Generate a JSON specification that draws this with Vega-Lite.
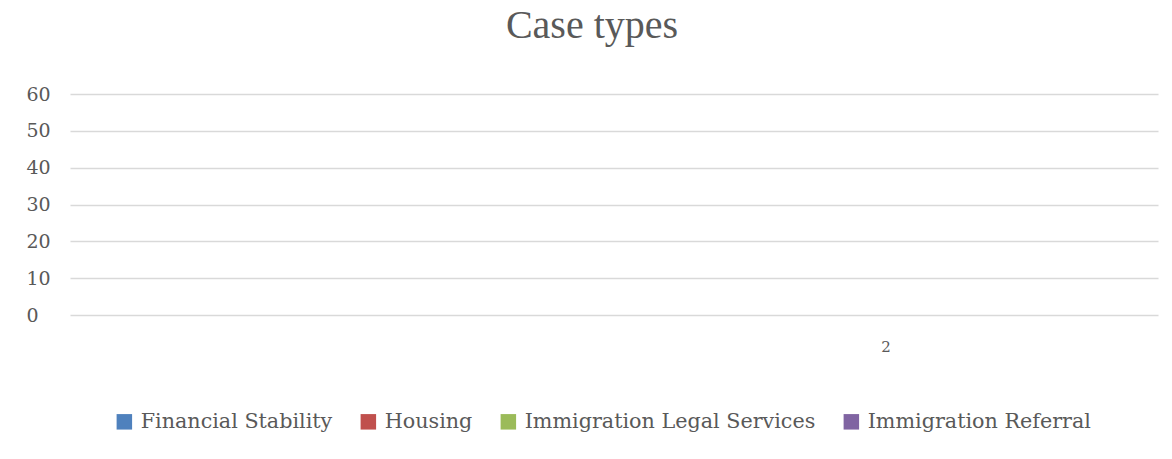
{
  "$schema": "https://vega.github.io/schema/vega-lite/v6.json",
  "autosize": "none",
  "width": 1088,
  "height": 221,
  "padding": {"left": 70, "top": 94, "right": 14, "bottom": 144},
  "background": "white",
  "title": {
    "text": "Case types",
    "font": "Liberation Serif",
    "fontSize": 40,
    "fontWeight": "normal",
    "color": "#595959",
    "anchor": "middle",
    "dx": -22,
    "offset": 39
  },
  "data": {
    "values": [
      {"category": "1", "series": "Financial Stability", "value": 0},
      {"category": "1", "series": "Housing", "value": 0},
      {"category": "1", "series": "Immigration Legal Services", "value": 0},
      {"category": "1", "series": "Immigration Referral", "value": 0},
      {"category": "2", "series": "Financial Stability", "value": 0},
      {"category": "2", "series": "Housing", "value": 0},
      {"category": "2", "series": "Immigration Legal Services", "value": 0},
      {"category": "2", "series": "Immigration Referral", "value": 0}
    ]
  },
  "mark": {"type": "bar"},
  "encoding": {
    "x": {
      "field": "category",
      "type": "nominal",
      "title": null,
      "scale": {"paddingInner": 0, "paddingOuter": 0},
      "axis": {
        "domain": false,
        "ticks": false,
        "labelAngle": 0,
        "labelExpr": "datum.label == '1' ? '' : datum.label",
        "labelFont": "DejaVu Serif",
        "labelFontSize": 15,
        "labelColor": "#595959",
        "labelPadding": 24
      }
    },
    "xOffset": {"field": "series", "type": "nominal"},
    "y": {
      "field": "value",
      "type": "quantitative",
      "title": null,
      "scale": {"domain": [0, 60]},
      "axis": {
        "values": [0, 10, 20, 30, 40, 50, 60],
        "domain": false,
        "ticks": false,
        "tickSize": 0,
        "labelAlign": "left",
        "labelPadding": 44,
        "labelFont": "DejaVu Serif",
        "labelFontSize": 19,
        "labelColor": "#595959",
        "gridColor": "#d9d9d9",
        "gridWidth": 1.5
      }
    },
    "color": {
      "field": "series",
      "type": "nominal",
      "title": null,
      "scale": {
        "domain": ["Financial Stability", "Housing", "Immigration Legal Services", "Immigration Referral"],
        "range": ["#4f81bd", "#c0504d", "#9bbb59", "#8064a2"]
      },
      "legend": {
        "orient": "none",
        "direction": "horizontal",
        "legendX": 44,
        "legendY": 317,
        "symbolType": "square",
        "symbolSize": 240,
        "symbolStrokeWidth": 0,
        "labelFont": "DejaVu Serif",
        "labelFontSize": 20.7,
        "labelColor": "#595959",
        "labelLimit": 400,
        "labelOffset": 6,
        "columnPadding": 25
      }
    }
  },
  "config": {
    "view": {"stroke": null}
  }
}
